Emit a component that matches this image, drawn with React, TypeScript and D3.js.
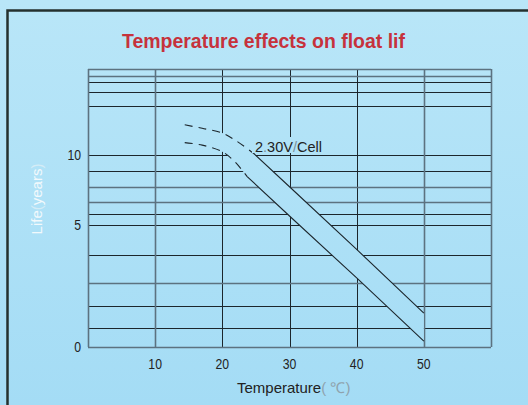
import React, { useRef, useEffect } from "react";
import * as d3 from "d3";

// temperature (°C) grid / ticks
const tempTicks = [10, 20, 30, 40, 50];
const tempLinesHeavy = [0, 10, 50, 60];
const tempLinesThin = [20, 30, 40];

// life (years) grid / ticks
const lifeTicks = [0, 5, 10];
const lifeLinesHeavy = [0, 1.85, 6.5, 7.55, 16.9, 17.6];
const lifeLinesThin = [0.3, 0.95, 3.25, 5, 5.7, 8.75, 10, 14.15, 15.4, 16.35];

// 2.30V/Cell band: [temperature, years]
const upperDashed = [[14.4, 12.5], [17, 12.2], [20, 11.8], [22.2, 11.1], [24.6, 10.16]];
const upperSolid = [[24.6, 10.16], [30, 7.59], [40, 3.56], [50, 0.71]];
const lowerDashed = [[14.4, 11.0], [17, 10.8], [20, 10.26], [21.9, 9.45], [23.7, 8.33]];
const lowerSolid = [[23.7, 8.33], [30, 5.58], [40, 2.1], [50, 0.05]];

const W = 528;
const H = 405;
const FONT = "'Liberation Sans', Arial, sans-serif";
const DARK = "#1c262c";
const GRAY = "#5c7280";

const App = () => {
  const svgRef = useRef(null);

  useEffect(() => {
    const svg = d3.select(svgRef.current);
    svg.selectAll("*").remove();

    const left = 88, right = 491, top = 69, bottom = 347;

    const x = d3.scaleLinear().domain([0, 60]).range([left, right]);
    const y = d3.scalePow().exponent(0.655).domain([0, 17.6]).range([bottom, top]);

    // background
    const defs = svg.append("defs");
    const grad = defs
      .append("linearGradient")
      .attr("id", "bg")
      .attr("gradientUnits", "userSpaceOnUse")
      .attr("x1", 0)
      .attr("y1", 0)
      .attr("x2", 0)
      .attr("y2", H);
    grad.append("stop").attr("offset", 0).attr("stop-color", "#b9e6f8");
    grad.append("stop").attr("offset", 1).attr("stop-color", "#a4dcf5");

    svg.append("rect").attr("width", W).attr("height", H).attr("fill", "url(#bg)");

    // frame
    svg
      .append("rect")
      .attr("x", 7.5)
      .attr("y", 10.5)
      .attr("width", W + 20)
      .attr("height", H + 20)
      .attr("fill", "none")
      .attr("stroke", "#24302e")
      .attr("stroke-width", 2.5);

    // title
    svg
      .append("text")
      .attr("x", 263.5)
      .attr("y", 48)
      .attr("text-anchor", "middle")
      .style("font-family", FONT)
      .style("font-weight", "bold")
      .style("font-size", "21px")
      .attr("fill", "#c6323c")
      .attr("textLength", 283)
      .attr("lengthAdjust", "spacingAndGlyphs")
      .text("Temperature effects on float lif");

    // grid
    const g = svg.append("g");
    const hLine = (vals, color, w) =>
      g
        .selectAll(null)
        .data(vals)
        .enter()
        .append("line")
        .attr("x1", left)
        .attr("x2", right)
        .attr("y1", (d) => Math.round(y(d)) + 0.5)
        .attr("y2", (d) => Math.round(y(d)) + 0.5)
        .attr("stroke", color)
        .attr("stroke-width", w);
    const vLine = (vals, color, w) =>
      g
        .selectAll(null)
        .data(vals)
        .enter()
        .append("line")
        .attr("y1", top)
        .attr("y2", bottom)
        .attr("x1", (d) => Math.round(x(d)) + 0.5)
        .attr("x2", (d) => Math.round(x(d)) + 0.5)
        .attr("stroke", color)
        .attr("stroke-width", w);

    hLine(lifeLinesThin, DARK, 1);
    vLine(tempLinesThin, DARK, 1);
    hLine(lifeLinesHeavy, GRAY, 1.6);
    vLine(tempLinesHeavy, GRAY, 1.6);

    // band between the two lines hides the grid
    const px = (d) => x(d[0]);
    const py = (d) => y(d[1]);
    const smooth = d3.line().x(px).y(py).curve(d3.curveCatmullRom);
    const straight = d3.line().x(px).y(py);

    const bandPath =
      smooth(upperDashed) +
      straight(upperSolid).replace(/^M/, "L") +
      straight(lowerSolid.slice().reverse()).replace(/^M/, "L") +
      smooth(lowerDashed.slice().reverse()).replace(/^M/, "L") +
      "Z";
    svg.append("path").attr("d", bandPath).attr("fill", "url(#bg)");

    [upperDashed, lowerDashed].forEach((pts) => {
      svg
        .append("path")
        .attr("d", smooth(pts))
        .attr("fill", "none")
        .attr("stroke", DARK)
        .attr("stroke-width", 1.1)
        .attr("stroke-dasharray", "8,6");
    });
    [upperSolid, lowerSolid].forEach((pts) => {
      svg
        .append("path")
        .attr("d", straight(pts))
        .attr("fill", "none")
        .attr("stroke", DARK)
        .attr("stroke-width", 1.1);
    });

    // series label with a knock-out box
    svg.append("rect").attr("x", 252).attr("y", 137).attr("width", 72).attr("height", 16).attr("fill", "url(#bg)");
    const lab = svg
      .append("text")
      .attr("x", 255)
      .attr("y", 151.5)
      .style("font-family", FONT)
      .style("font-size", "15px")
      .attr("fill", "#222")
      .attr("textLength", 67)
      .attr("lengthAdjust", "spacingAndGlyphs");
    lab.append("tspan").text("2");
    lab.append("tspan").attr("fill", "#7a8f9a").text(".");
    lab.append("tspan").text("30V");
    lab.append("tspan").attr("fill", "#7a8f9a").text("/");
    lab.append("tspan").text("Cell");

    // tick labels
    svg
      .selectAll(null)
      .data(tempTicks)
      .enter()
      .append("text")
      .attr("x", (d) => x(d))
      .attr("y", 369)
      .attr("text-anchor", "middle")
      .style("font-family", FONT)
      .style("font-size", "15px")
      .attr("fill", "#222")
      .attr("textLength", (d) => String(d).length * 6.8)
      .attr("lengthAdjust", "spacingAndGlyphs")
      .text((d) => d);

    svg
      .selectAll(null)
      .data(lifeTicks)
      .enter()
      .append("text")
      .attr("x", 81)
      .attr("y", (d) => y(d) + 5)
      .attr("text-anchor", "end")
      .style("font-family", FONT)
      .style("font-size", "15px")
      .attr("fill", "#222")
      .attr("textLength", (d) => String(d).length * 6.8)
      .attr("lengthAdjust", "spacingAndGlyphs")
      .text((d) => d);

    // axis titles
    const xt = svg
      .append("text")
      .attr("x", 237)
      .attr("y", 393)
      .style("font-family", FONT)
      .style("font-size", "15px")
      .attr("fill", "#222");
    xt.append("tspan").text("Temperature");
    xt.append("tspan").attr("fill", "#8fa3ad").text("( ℃)");

    const yt = svg
      .append("text")
      .attr("transform", "translate(42,199) rotate(-90)")
      .attr("text-anchor", "middle")
      .style("font-family", FONT)
      .style("font-size", "15px")
      .attr("fill", "#f2f9fc");
    yt.append("tspan").text("Life");
    yt.append("tspan").attr("fill", "#d4ecf6").text("(");
    yt.append("tspan").text("years");
    yt.append("tspan").attr("fill", "#d4ecf6").text(")");
  }, []);

  return (
    <svg
      ref={svgRef}
      width={W}
      height={H}
      style={{ position: "absolute", left: 0, top: 0, display: "block" }}
    />
  );
};

export default App;
